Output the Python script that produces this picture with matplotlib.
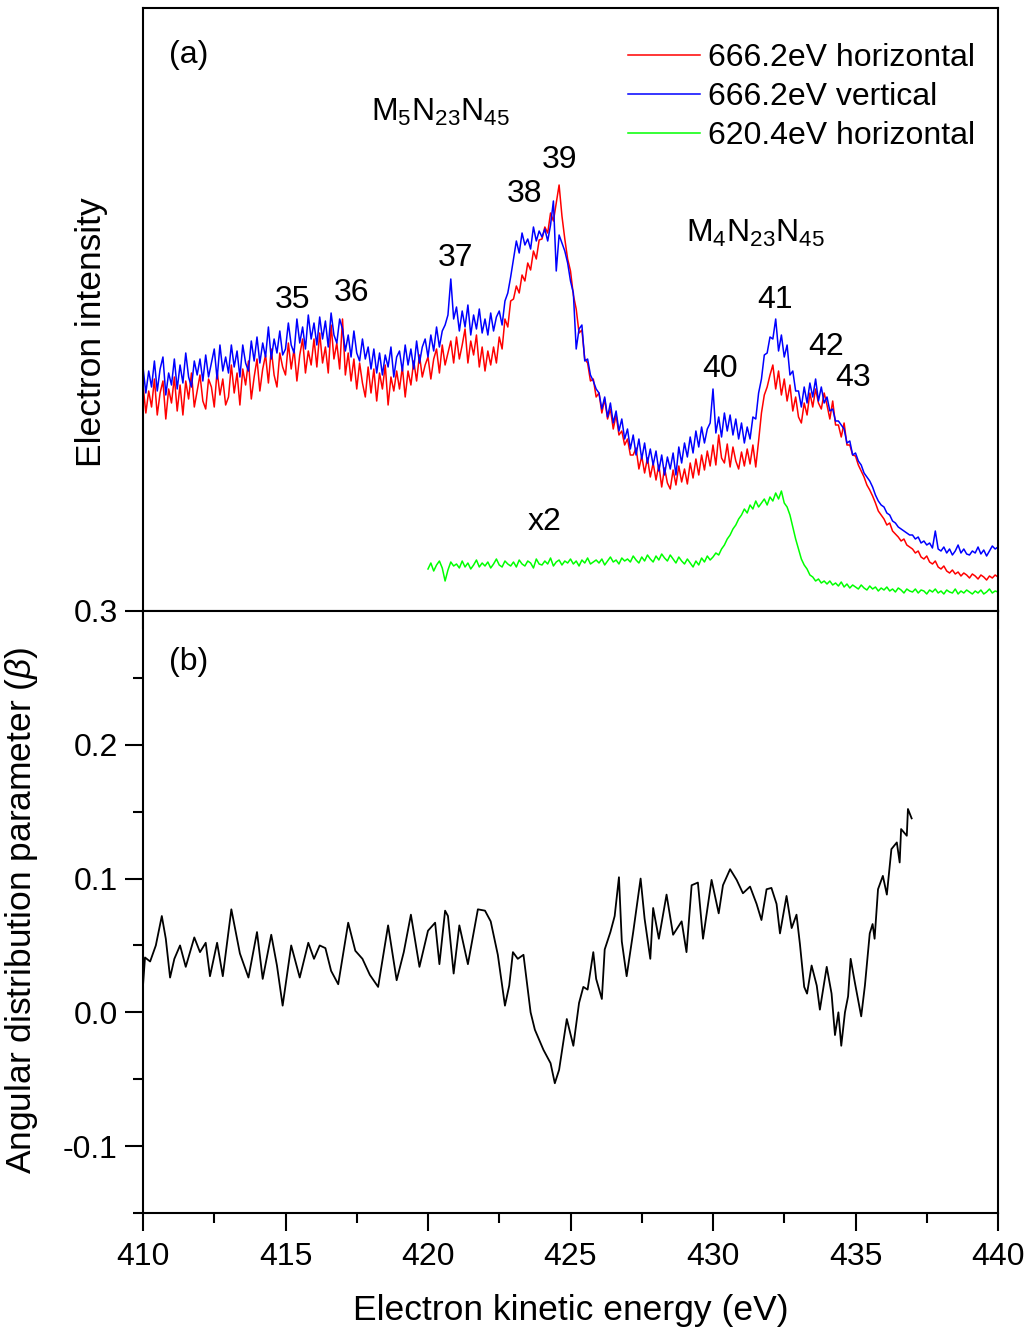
import numpy as np
import matplotlib
matplotlib.use('Agg')
import matplotlib.pyplot as plt
from matplotlib.ticker import MultipleLocator, NullLocator

plt.rcParams['font.family'] = ['Liberation Sans', 'DejaVu Sans']
plt.rcParams['mathtext.fontset'] = 'custom'
plt.rcParams['mathtext.rm'] = 'Liberation Sans'
plt.rcParams['mathtext.it'] = 'Liberation Sans:italic'

# energy grid of the spectra (eV), 0.1 eV channels
energy = np.round(np.arange(4100, 4401) / 10.0, 1)
energy_green = np.round(np.arange(4200, 4401) / 10.0, 1)

# 666.2 eV, horizontal polarisation (arb. units)
red_h = [
    226, 198, 220, 204, 232, 196, 218, 230, 192, 222,
    208, 234, 200, 226, 196, 230, 212, 238, 204, 220,
    236, 210, 202, 232, 224, 204, 240, 216, 232, 206,
    214, 246, 218, 238, 206, 242, 226, 250, 212, 234,
    252, 220, 242, 256, 228, 262, 236, 224, 258, 244,
    236, 268, 242, 262, 230, 256, 272, 238, 260, 246,
    272, 244, 278, 248, 264, 238, 286, 252, 268, 242,
    292, 236, 258, 230, 252, 222, 248, 228, 214, 244,
    218, 242, 210, 238, 222, 246, 206, 234, 220, 240,
    222, 244, 214, 240, 226, 250, 230, 256, 234, 246,
    254, 232, 252, 262, 238, 266, 246, 258, 270, 248,
    274, 252, 266, 282, 248, 270, 256, 276, 244, 264,
    240, 260, 246, 264, 248, 274, 262, 292, 284, 310,
    312, 325, 318, 336, 330, 348, 341, 360, 352, 371,
    372, 384, 378, 398, 390, 408, 426, 395, 372, 352,
    340, 316, 302, 278, 281, 252, 248, 230, 232, 214,
    218, 198, 212, 192, 202, 182, 196, 176, 180, 166,
    172, 156, 156, 163, 142, 155, 138, 153, 134, 148,
    131, 146, 124, 143, 128, 122, 141, 126, 145, 129,
    142, 127, 148, 133, 152, 136, 156, 141, 160, 145,
    166, 146, 176, 153, 148, 167, 144, 164, 150, 142,
    159, 145, 162, 147, 166, 144, 170, 198, 216, 224,
    236, 246, 222, 240, 216, 232, 210, 226, 200, 214,
    194, 188, 208, 196, 218, 204, 222, 208, 202, 218,
    206, 192, 210, 186, 186, 174, 188, 166, 166, 156,
    155, 146, 140, 134, 126, 121, 115, 108, 100, 96,
    92, 86, 88, 80, 77, 74, 70, 72, 66, 64,
    62, 58, 60, 54, 52, 55, 49, 47, 50, 44,
    42, 45, 40, 38, 41, 37, 39, 35, 38, 36,
    33, 37, 35, 32, 36, 34, 31, 35, 33, 36,
    34]

# 666.2 eV, vertical polarisation
blue_v = [
    244, 218, 240, 224, 250, 220, 242, 254, 216, 238,
    226, 252, 222, 246, 228, 258, 234, 224, 250, 236,
    252, 230, 256, 234, 248, 262, 232, 266, 240, 254,
    238, 266, 244, 260, 234, 266, 248, 240, 270, 250,
    274, 248, 268, 254, 284, 252, 272, 258, 280, 256,
    262, 288, 266, 258, 292, 268, 284, 262, 296, 272,
    288, 266, 294, 272, 290, 264, 298, 276, 268, 292,
    282, 260, 276, 254, 280, 258, 250, 272, 252, 264,
    242, 262, 238, 258, 236, 256, 244, 264, 234, 254,
    260, 240, 266, 246, 262, 242, 270, 248, 264, 272,
    254, 276, 260, 284, 264, 280, 286, 296, 332, 292,
    304, 280, 300, 284, 306, 276, 296, 282, 302, 278,
    292, 276, 298, 280, 294, 300, 286, 310, 318, 334,
    352, 370, 358, 378, 366, 372, 362, 384, 370, 380,
    374, 382, 370, 386, 410, 340, 376, 368, 360, 348,
    330, 318, 262, 282, 286, 250, 252, 236, 230, 222,
    218, 202, 214, 194, 208, 188, 200, 180, 192, 172,
    182, 162, 176, 156, 172, 152, 168, 148, 162, 146,
    160, 140, 156, 136, 154, 142, 158, 136, 164, 148,
    168, 154, 174, 158, 180, 164, 184, 168, 182, 188,
    222, 178, 194, 174, 198, 180, 196, 176, 192, 172,
    188, 168, 184, 172, 194, 192, 218, 232, 256, 258,
    274, 272, 292, 260, 276, 254, 266, 236, 240, 220,
    220, 204, 224, 208, 228, 214, 232, 210, 224, 208,
    214, 200, 202, 190, 190, 186, 182, 168, 170, 156,
    158, 150, 146, 138, 134, 130, 124, 116, 110, 106,
    104, 98, 96, 90, 88, 84, 82, 80, 78, 76,
    76, 72, 74, 68, 70, 66, 68, 63, 80, 62,
    60, 64, 58, 62, 56, 60, 66, 58, 62, 57,
    56, 60, 58, 64, 57, 61, 55, 60, 65, 62,
    64]

# 620.4 eV, horizontal (already x2)
green_h = [
    42, 48, 40, 46, 50, 43, 30, 41, 49, 45,
    47, 43, 50, 44, 48, 42, 46, 51, 44, 48,
    45, 49, 43, 47, 52, 46, 44, 50, 47, 45,
    49, 44, 51, 47, 45, 50, 48, 43, 52, 47,
    46, 50, 47, 53, 45, 49, 51, 46, 50, 48,
    52, 47, 50, 45, 51, 48, 53, 47, 49, 51,
    48, 52, 46, 50, 54, 49, 51, 47, 53, 50,
    52, 49, 55, 51, 48, 54, 50, 56, 52, 49,
    55, 51, 57, 53, 50, 56, 52, 48, 54, 50,
    47, 52, 48, 44, 50, 46, 53, 49, 55, 51,
    54, 58, 56, 62, 66, 72, 76, 82, 86, 92,
    96, 102, 98, 106, 102, 110, 104, 108, 112, 106,
    114, 110, 118, 112, 120, 108, 104, 96, 84, 72,
    62, 52, 46, 42, 36, 34, 30, 32, 28, 30,
    27, 30, 26, 28, 25, 29, 24, 27, 23, 26,
    24, 22, 26, 23, 21, 25, 22, 24, 20, 23,
    21, 24, 20, 22, 19, 23, 21, 18, 22, 20,
    19, 22, 18, 21, 20, 17, 21, 19, 22, 18,
    20, 17, 21, 19, 18, 22, 17, 20, 18, 21,
    19, 17, 20, 18, 21, 17, 19, 22, 18, 20,
    19]

# angular distribution parameter beta
beta_e = [
    410.0, 410.07, 410.25, 410.45, 410.66, 410.8, 410.95, 411.1, 411.3, 411.5,
    411.8, 412.0, 412.2, 412.35, 412.6, 412.8, 413.1, 413.4, 413.7, 414.0,
    414.2, 414.5, 414.7, 414.9, 415.2, 415.5, 415.8, 416.0, 416.2, 416.4,
    416.6, 416.85, 417.2, 417.45, 417.7, 417.96, 418.25, 418.6, 418.9, 419.15,
    419.4, 419.7, 420.0, 420.25, 420.4, 420.6, 420.7, 420.9, 421.1, 421.4,
    421.75, 422.0, 422.2, 422.45, 422.7, 422.85, 422.98, 423.15, 423.35, 423.6,
    423.75, 424.05, 424.3, 424.45, 424.6, 424.87, 425.1, 425.3, 425.45, 425.6,
    425.8, 425.9, 426.1, 426.2, 426.4, 426.55, 426.7, 426.8, 426.97, 427.2,
    427.46, 427.6, 427.8, 427.9, 428.1, 428.37, 428.6, 428.9, 429.07, 429.25,
    429.47, 429.65, 429.95, 430.2, 430.35, 430.6, 430.83, 431.05, 431.3, 431.53,
    431.7, 431.88, 432.05, 432.23, 432.35, 432.58, 432.76, 432.93, 433.05, 433.2,
    433.3, 433.46, 433.64, 433.75, 433.99, 434.16, 434.28, 434.4, 434.5, 434.63,
    434.74, 434.83, 434.98, 435.2, 435.33, 435.5, 435.6, 435.67, 435.79, 435.96,
    436.1, 436.26, 436.45, 436.55, 436.6, 436.8, 436.84, 436.97]
beta_v = [
    0.020, 0.041, 0.038, 0.050, 0.072, 0.055, 0.026, 0.040, 0.050, 0.034,
    0.056, 0.045, 0.052, 0.027, 0.052, 0.027, 0.077, 0.044, 0.026, 0.060,
    0.025, 0.058, 0.035, 0.005, 0.050, 0.026, 0.052, 0.040, 0.050, 0.048,
    0.031, 0.021, 0.067, 0.046, 0.040, 0.028, 0.019, 0.065, 0.024, 0.045,
    0.073, 0.034, 0.061, 0.067, 0.036, 0.076, 0.072, 0.029, 0.065, 0.036,
    0.077, 0.076, 0.068, 0.043, 0.005, 0.020, 0.045, 0.040, 0.043, 0.000,
    -0.013, -0.028, -0.038, -0.053, -0.043, -0.005, -0.025, 0.007, 0.019, 0.017,
    0.045, 0.025, 0.010, 0.047, 0.060, 0.072, 0.101, 0.053, 0.027, 0.060,
    0.100, 0.070, 0.040, 0.078, 0.055, 0.088, 0.058, 0.068, 0.045, 0.095,
    0.097, 0.055, 0.099, 0.074, 0.095, 0.107, 0.099, 0.089, 0.094, 0.081,
    0.069, 0.092, 0.093, 0.081, 0.059, 0.087, 0.063, 0.073, 0.051, 0.019,
    0.014, 0.035, 0.020, 0.002, 0.034, 0.014, -0.017, 0.000, -0.025, 0.000,
    0.012, 0.040, 0.022, -0.003, 0.020, 0.059, 0.066, 0.055, 0.092, 0.102,
    0.088, 0.122, 0.127, 0.112, 0.137, 0.132, 0.152, 0.145]

# peak numbering (label, energy, height of label)
peak_labels = ['35', '36', '37', '38', '39', '40', '41', '42', '43']
peak_e = [415.26, 417.33, 420.95, 423.4, 424.63, 430.25, 432.18, 433.96, 434.91]
peak_h = [311, 318, 353, 417, 451, 242, 311, 264, 233]

W, H = 1030, 1337
fig = plt.figure(figsize=(W / 100, H / 100), dpi=100)
x0, x1 = 143 / W, 998 / W
ax1 = fig.add_axes([x0, 1 - 611 / H, x1 - x0, 603 / H])
ax2 = fig.add_axes([x0, 1 - 1213 / H, x1 - x0, 602 / H])

fs = 23
for ax in (ax1, ax2):
    for s in ax.spines.values():
        s.set_linewidth(1.5)
    ax.set_xlim(410, 440)
    ax.xaxis.set_major_locator(MultipleLocator(5))
    ax.xaxis.set_minor_locator(MultipleLocator(2.5))
    ax.tick_params(which='major', direction='out', length=13, width=1.5, labelsize=fs, pad=8)
    ax.tick_params(which='minor', direction='out', length=7, width=1.5)

# top panel
ax1.plot(energy, red_h, color='#ff0000', lw=1.1, label='666.2eV horizontal')
ax1.plot(energy, blue_v, color='#0000ff', lw=1.1, label='666.2eV vertical')
ax1.plot(energy_green, green_h, color='#00ff00', lw=1.1, label='620.4eV horizontal')
ax1.set_ylim(0, 603)
ax1.yaxis.set_major_locator(NullLocator())
ax1.tick_params(axis='x', labelbottom=False)
ax1.set_ylabel('Electron intensity', fontsize=25.5)
ax1.yaxis.set_label_coords(-0.041, 0.463)

for lab, e, h in zip(peak_labels, peak_e, peak_h):
    ax1.text(e, h, lab, fontsize=fs, ha='center', va='center')
ax1.text(0.053, 0.922, '(a)', transform=ax1.transAxes, fontsize=fs, ha='center', va='center')
ax1.text(420.45, 499, r'M$_5$N$_{23}$N$_{45}$', fontsize=fs, ha='center', va='center')
ax1.text(431.5, 378, r'M$_4$N$_{23}$N$_{45}$', fontsize=fs, ha='center', va='center')
ax1.text(424.1, 89, 'x2', fontsize=fs, ha='center', va='center')

leg = ax1.legend(loc='upper left', bbox_to_anchor=(0.567, 0.942), frameon=False,
                 fontsize=fs, handlelength=2.25, handletextpad=0.25,
                 labelspacing=0.28, borderpad=0, borderaxespad=0)

# bottom panel
ax2.plot(beta_e, beta_v, color='black', lw=1.3)
ax2.set_ylim(-0.15, 0.3)
ax2.yaxis.set_minor_locator(MultipleLocator(0.05))
ax2.set_yticks([-0.1, 0.0, 0.1, 0.2, 0.3])
ax2.set_yticklabels(['-0.1', '0.0', '0.1', '0.2', '0.3'])
ax2.tick_params(axis='y', pad=5)
ax2.text(0.053, 0.915, '(b)', transform=ax2.transAxes, fontsize=fs, ha='center', va='center')
ax2.set_xlabel('Electron kinetic energy (eV)', fontsize=25.5, labelpad=16)
ax2.set_ylabel(r'Angular distribution parameter ($\beta$)', fontsize=25.5)
ax2.yaxis.set_label_coords(-0.12, 0.503)

fig.savefig('out.png', dpi=100)
